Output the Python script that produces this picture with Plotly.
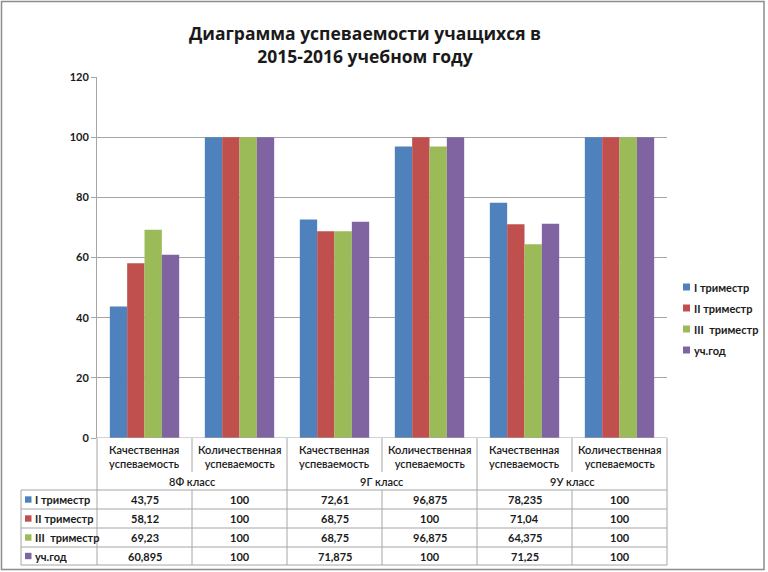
import plotly.graph_objects as go

categories = ["Качественная успеваемость", "Количественная успеваемость"] * 3
class_labels = ["8Ф класс", "9Г класс", "9У класс"]
series_names = ["I триместр", "II триместр", "III  триместр", "уч.год"]
s1 = [43.75, 100, 72.61, 96.875, 78.235, 100]
s2 = [58.12, 100, 68.75, 100, 71.04, 100]
s3 = [69.23, 100, 68.75, 96.875, 64.375, 100]
s4 = [60.895, 100, 71.875, 100, 71.25, 100]
series_values = [s1, s2, s3, s4]
colors = ["#4F81BD", "#C0504D", "#9BBB59", "#8064A2"]
y_ticks = [0, 20, 40, 60, 80, 100, 120]

W, H = 768, 572
ML, MR, MT, MB = 97, 101, 77, 134
PW = W - ML - MR
PH = H - MT - MB
FONT = "Lato"
TFONT = "Open Sans"
TXT = "#1a1a1a"
GRID = "#a6a6a6"

def fmt(v):
    s = ("%.3f" % v).rstrip("0").rstrip(".")
    return s.replace(".", ",")

def px_x(px):
    return (px - ML) / PW

def px_y(py):
    return (H - MB - py) / PH

fig = go.Figure()
xs = list(range(len(categories)))
for name, vals, c in zip(series_names, series_values, colors):
    fig.add_trace(go.Bar(x=xs, y=vals, name=name, marker=dict(color=c, line=dict(width=0)),
                         showlegend=False, hoverinfo="y+name"))

shapes = []
annotations = []

def hline(x0, x1, py, color=GRID):
    shapes.append(dict(type="line", xref="paper", yref="paper", x0=px_x(x0), x1=px_x(x1),
                       y0=px_y(py), y1=px_y(py), line=dict(color=color, width=1)))

def vline(px, y0, y1, color=GRID):
    shapes.append(dict(type="line", xref="paper", yref="paper", x0=px_x(px), x1=px_x(px),
                       y0=px_y(y0), y1=px_y(y1), line=dict(color=color, width=1)))

n = len(categories)
col_w = PW / n
col_edges = [ML + i * col_w for i in range(n + 1)]
table_left = 21
row_tops = [490, 509, 528, 547, 565]

# table grid
for py in row_tops:
    hline(table_left, W - MR, py)
vline(table_left, row_tops[0], row_tops[-1])
for i, ex in enumerate(col_edges):
    if i % 2 == 0:
        vline(ex, H - MB, row_tops[-1])
    else:
        vline(ex, H - MB, 472)
        vline(ex, row_tops[0], row_tops[-1])

# category labels
for i, cat in enumerate(categories):
    cx = (col_edges[i] + col_edges[i + 1]) / 2
    annotations.append(dict(x=px_x(cx), y=px_y(456), xref="paper", yref="paper",
                            text=cat.replace(" ", "<br>"), showarrow=False,
                            font=dict(family=FONT, size=11, color=TXT, weight=600), align="center",
                            xanchor="center", yanchor="middle"))
for j, cl in enumerate(class_labels):
    cx = col_edges[2 * j + 1]
    annotations.append(dict(x=px_x(cx), y=px_y(481), xref="paper", yref="paper",
                            text=cl, showarrow=False,
                            font=dict(family=FONT, size=11, color=TXT, weight=600),
                            xanchor="center", yanchor="middle"))

# data rows
for r, (name, vals, c) in enumerate(zip(series_names, series_values, colors)):
    cy = (row_tops[r] + row_tops[r + 1]) / 2
    shapes.append(dict(type="rect", xref="paper", yref="paper",
                       x0=px_x(25), x1=px_x(31.5), y0=px_y(cy - 3.2), y1=px_y(cy + 3.2),
                       fillcolor=c, line=dict(width=0)))
    annotations.append(dict(x=px_x(33), y=px_y(cy), xref="paper", yref="paper",
                            text="<b>" + name + "</b>", showarrow=False,
                            font=dict(family=FONT, size=11, color=TXT),
                            xanchor="left", yanchor="middle"))
    for i, v in enumerate(vals):
        cx = (col_edges[i] + col_edges[i + 1]) / 2
        annotations.append(dict(x=px_x(cx), y=px_y(cy), xref="paper", yref="paper",
                                text="<b>" + fmt(v) + "</b>", showarrow=False,
                                font=dict(family=FONT, size=11, color=TXT),
                                xanchor="center", yanchor="middle"))

# right legend
leg_y = [287, 308, 329, 350]
for name, c, ly in zip(series_names, colors, leg_y):
    shapes.append(dict(type="rect", xref="paper", yref="paper",
                       x0=px_x(683), x1=px_x(690), y0=px_y(ly - 3.5), y1=px_y(ly + 3.5),
                       fillcolor=c, line=dict(width=0)))
    annotations.append(dict(x=px_x(692), y=px_y(ly), xref="paper", yref="paper",
                            text="<b>" + name + "</b>", showarrow=False,
                            font=dict(family=FONT, size=11, color=TXT),
                            xanchor="left", yanchor="middle"))

# outer frame
shapes.append(dict(type="rect", xref="paper", yref="paper",
                   x0=px_x(1.5), x1=px_x(764), y0=px_y(1.5), y1=px_y(569.5),
                   line=dict(color="#8c8c8c", width=1.5), fillcolor="rgba(0,0,0,0)"))

fig.update_layout(
    width=W, height=H,
    margin=dict(l=ML, r=MR, t=MT, b=MB, pad=0),
    paper_bgcolor="white", plot_bgcolor="white",
    barmode="group", bargap=0.27, bargroupgap=0,
    title=dict(text="<b>Диаграмма успеваемости учащихся в<br>2015-2016 учебном году</b>",
               x=(365) / W, xanchor="center", y=1 - 40 / H, yanchor="middle",
               font=dict(family=TFONT, size=17.5, color=TXT)),
    xaxis=dict(range=[-0.5, n - 0.5], showticklabels=False, showgrid=False, zeroline=False,
               showline=False, ticks="", fixedrange=True),
    yaxis=dict(range=[0, 120], tickvals=y_ticks, ticktext=["<b>%d</b>" % t for t in y_ticks],
               showgrid=True, gridcolor=GRID, gridwidth=1, zeroline=False,
               showline=True, linecolor=GRID, linewidth=1, ticks="outside", ticklen=5,
               tickcolor=GRID, tickfont=dict(family=FONT, size=11, color=TXT), fixedrange=True),
    shapes=shapes, annotations=annotations,
    showlegend=False,
)
fig.add_hline(y=0, line=dict(color=GRID, width=1))

fig.write_html("out.html")
